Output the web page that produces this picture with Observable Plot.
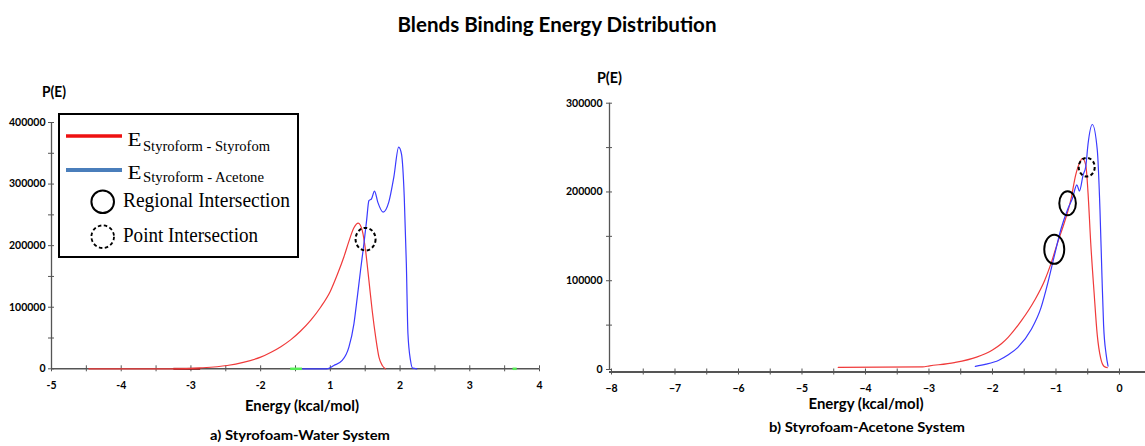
<!DOCTYPE html>
<html><head><meta charset="utf-8">
<script src="https://cdn.jsdelivr.net/npm/d3@7"></script>
<script src="https://cdn.jsdelivr.net/npm/@observablehq/plot@0.6"></script>
<style>
body{margin:0;background:#fff}
#wrap{position:relative;width:1145px;height:446px;overflow:hidden}
.plot{position:absolute;top:60px}
#overlay{position:absolute;left:0;top:0;pointer-events:none}
</style></head>
<body><div id="wrap"></div>
<script>
// ---------- data ----------
// left panel: x = position along the printed axis (0..7 -> labels below)
const leftXLabels = ["-5","-4","-3","-2","1","2","3","4"];
const leftYTicks = [0,100000,200000,300000,400000];
const leftRed = [[0.536,0],[1.755,0],[2.14,1500],[2.52,5400],[2.75,10500],[3.0,19000],[3.15,27000],[3.29,36000],[3.43,47000],[3.57,61000],[3.72,79000],[3.86,100000],[4.0,126000],[4.1,153000],[4.195,182000],[4.266,207000],[4.338,229000],[4.40,236600],[4.457,224700],[4.505,192200],[4.553,143500],[4.6,94700],[4.65,51400],[4.697,19000],[4.745,5400],[4.79,0]];
const leftBlue = [[3.6,0],[3.95,0],[4.05,5400],[4.17,13500],[4.266,35200],[4.338,73000],[4.386,116000],[4.433,160000],[4.481,203000],[4.52,241000],[4.553,273000],[4.59,276000],[4.634,288600],[4.68,270700],[4.757,254500],[4.838,270700],[4.91,311000],[4.98,360000],[5.02,349000],[5.06,279000],[5.09,170500],[5.113,56800],[5.15,13500],[5.18,1000],[5.24,0]];
const leftGreenSegs = [[3.43,3.6],[6.62,6.68]];
const leftDarkSegs = [[1.755,2.14]];
const leftMarkers = [{x:4.505, y:210500, rx:10, ry:11.3, dashed:true}];

// right panel: x = energy (kcal/mol)
const rightXTicks = [-8,-7,-6,-5,-4,-3,-2,-1,0];
const rightYTicks = [0,100000,200000,300000];
const rightRed = [[-4.43,2500],[-3.1,3000],[-2.99,4100],[-2.6,7800],[-2.25,14000],[-2.0,22000],[-1.86,29000],[-1.75,36500],[-1.544,55000],[-1.336,78000],[-1.18,100000],[-1.08,119000],[-0.974,143000],[-0.87,165000],[-0.766,191000],[-0.69,219000],[-0.62,234000],[-0.583,238000],[-0.53,230000],[-0.495,199000],[-0.453,143000],[-0.4,87000],[-0.35,39000],[-0.297,13000],[-0.245,3700],[-0.19,2000]];
const rightBlue = [[-2.27,3500],[-2.1,6000],[-1.9,10500],[-1.75,16500],[-1.6,25000],[-1.39,45000],[-1.234,70000],[-1.13,97000],[-1.026,128000],[-0.922,158000],[-0.818,180000],[-0.74,193000],[-0.671,208000],[-0.63,201000],[-0.573,219000],[-0.53,229000],[-0.495,254000],[-0.427,276000],[-0.349,247000],[-0.307,180000],[-0.276,106000],[-0.25,50000],[-0.21,17000],[-0.18,3700]];
const rightMarkers = [
  {x:-1.027, y:135400, rx:10, ry:14.5, dashed:false},
  {x:-0.817, y:187300, rx:8.3, ry:12, dashed:false},
  {x:-0.516, y:227900, rx:8, ry:9.3, dashed:true}
];

// ---------- helpers ----------
function ellipseSymbol(rx, ry){
  const k = 0.5523;
  return {draw(ctx){
    ctx.moveTo(rx,0);
    ctx.bezierCurveTo(rx,k*ry,k*rx,ry,0,ry);
    ctx.bezierCurveTo(-k*rx,ry,-rx,k*ry,-rx,0);
    ctx.bezierCurveTo(-rx,-k*ry,-k*rx,-ry,0,-ry);
    ctx.bezierCurveTo(k*rx,-ry,rx,-k*ry,rx,0);
    ctx.closePath();
  }};
}
const fmt = d3.format("d");
const axisColor = "#555";
const style = {fontFamily:"Lato, 'Open Sans', sans-serif", fontWeight:"bold", fontSize:"10.5px", color:"#000", background:"transparent", overflow:"visible"};
const redC = "#f03a3a", blueC = "#3a3aff";

function markerMarks(list){
  return list.map(m => Plot.dot([m], {x:"x", y:"y", symbol: ellipseSymbol(m.rx, m.ry), r:5, fill:"none", stroke:"#000", strokeWidth:2, strokeDasharray: m.dashed ? "3.5,2.5" : null}));
}

// ---------- left plot ----------
const left = Plot.plot({
  width:560, height:340, marginLeft:51, marginRight:21, marginTop:62, marginBottom:31.7,
  x:{domain:[0,7]}, y:{domain:[0,400000]},
  style,
  marks:[
    Plot.ruleY([0], {stroke:axisColor, strokeWidth:1.6}),
    Plot.ruleX([0], {stroke:axisColor, strokeWidth:1.3}),
    Plot.axisX({ticks:d3.range(0,7.01,0.5), tickSize:3, tickFormat:()=>"", label:null, stroke:axisColor}),
    Plot.axisX({ticks:d3.range(0,7.01,0.5), tickSize:-3, tickFormat:()=>"", label:null, stroke:axisColor}),
    Plot.axisX({ticks:d3.range(0,8), tickSize:0, tickPadding:13, tickFormat:i=>leftXLabels[i], label:null}),
    Plot.axisY({ticks:d3.range(0,400001,50000), tickSize:3, tickFormat:()=>"", label:null, stroke:axisColor}),
    Plot.axisY({ticks:d3.range(0,400001,50000), tickSize:-3, tickFormat:()=>"", label:null, stroke:axisColor}),
    Plot.axisY({ticks:leftYTicks, tickSize:0, tickPadding:6, tickFormat:fmt, label:null}),
    Plot.ruleY(leftDarkSegs, {y:0, x1:d=>d[0], x2:d=>d[1], stroke:"#8b1a1a", strokeWidth:2}),
    Plot.ruleY(leftGreenSegs, {y:0, x1:d=>d[0], x2:d=>d[1], stroke:"#55ee55", strokeWidth:2.5}),
    Plot.line(leftRed, {x:d=>d[0], y:d=>d[1], stroke:redC, strokeWidth:1.2, curve:"monotone-x"}),
    Plot.line(leftBlue, {x:d=>d[0], y:d=>d[1], stroke:blueC, strokeWidth:1.2, curve:"monotone-x"}),
    ...markerMarks(leftMarkers)
  ]
});
left.classList.add("plot"); left.style.left = "0px";

// ---------- right plot ----------
const right = Plot.plot({
  width:585, height:340, marginLeft:49, marginRight:0, marginTop:42.7, marginBottom:31,
  x:{domain:[-8.0315,0.41]}, y:{domain:[0,300000]},
  style,
  marks:[
    Plot.ruleY([0], {stroke:axisColor, strokeWidth:1.8, dy:2.5}),
    Plot.ruleX([-8.0315], {stroke:axisColor, strokeWidth:1.3}),
    Plot.axisX({ticks:d3.range(-8,0.01,0.5), tickSize:3, dy:2.5, tickFormat:()=>"", label:null, stroke:axisColor}),
    Plot.axisX({ticks:d3.range(-8,0.01,0.5), tickSize:-3, dy:2.5, tickFormat:()=>"", label:null, stroke:axisColor}),
    Plot.axisX({ticks:rightXTicks, tickSize:0, tickPadding:15, tickFormat:fmt, label:null}),
    Plot.axisY({ticks:d3.range(0,300001,50000), tickSize:3, tickFormat:()=>"", label:null, stroke:axisColor}),
    Plot.axisY({ticks:d3.range(0,300001,50000), tickSize:-3, tickFormat:()=>"", label:null, stroke:axisColor}),
    Plot.axisY({ticks:rightYTicks, tickSize:0, tickPadding:7, tickFormat:fmt, label:null}),
    Plot.line(rightRed, {x:d=>d[0], y:d=>d[1], stroke:redC, strokeWidth:1.2, curve:"monotone-x"}),
    Plot.line(rightBlue, {x:d=>d[0], y:d=>d[1], stroke:blueC, strokeWidth:1.2, curve:"monotone-x"}),
    ...markerMarks(rightMarkers)
  ]
});
right.classList.add("plot"); right.style.left = "560px";

const wrap = document.getElementById("wrap");
wrap.appendChild(left);
wrap.appendChild(right);

// ---------- overlay: titles, axis labels, legend ----------
const svg = d3.select(wrap).append("svg").attr("id","overlay").attr("width",1145).attr("height",446);
const sans = "Lato, 'Open Sans', sans-serif";
const serif = "'Liberation Serif', 'DejaVu Serif', serif";
function txt(s, x, y, size, len, opts={}){
  const t = svg.append("text").attr("x",x).attr("y",y).attr("font-family",opts.family||sans)
    .attr("font-weight",opts.weight||"bold").attr("font-size",size).attr("fill","#000")
    .attr("text-anchor",opts.anchor||"start").text(s);
  if (len) t.attr("textLength",len).attr("lengthAdjust","spacingAndGlyphs");
  return t;
}
txt("Blends Binding Energy Distribution", 557, 32, 20, 319, {anchor:"middle"});
txt("P(E)", 42, 97, 15, 24);
txt("P(E)", 597, 83, 15, 25);
txt("Energy (kcal/mol)", 302, 411, 14.5, 114, {anchor:"middle"});
txt("Energy (kcal/mol)", 866, 409, 14.5, 115, {anchor:"middle"});
txt("a) Styrofoam-Water System", 300, 440, 14, 180, {anchor:"middle"});
txt("b) Styrofoam-Acetone System", 867, 432, 14, 196, {anchor:"middle"});

// legend box
svg.append("rect").attr("x",59).attr("y",114).attr("width",239).attr("height",143)
  .attr("fill","#fff").attr("stroke","#000").attr("stroke-width",2);
svg.append("line").attr("x1",66).attr("x2",122).attr("y1",136).attr("y2",136).attr("stroke","#ee1111").attr("stroke-width",3.5);
svg.append("line").attr("x1",66).attr("x2",122).attr("y1",170).attr("y2",170).attr("stroke","#4a7ebb").attr("stroke-width",4);
txt("E", 127.5, 145.5, 19, 14, {family:serif, weight:"normal"});
txt("Styroform - Styrofom", 143, 151, 14, 127, {family:serif, weight:"normal"});
txt("E", 127.5, 178.5, 19, 14, {family:serif, weight:"normal"});
txt("Styroform - Acetone", 143, 182, 14, 121, {family:serif, weight:"normal"});
svg.append("circle").attr("cx",102.7).attr("cy",201.7).attr("r",11.3).attr("fill","none").attr("stroke","#000").attr("stroke-width",2);
txt("Regional Intersection", 123, 207, 21, 167, {family:serif, weight:"normal"});
svg.append("circle").attr("cx",102.7).attr("cy",236.7).attr("r",11.3).attr("fill","none").attr("stroke","#000").attr("stroke-width",1.8).attr("stroke-dasharray","3.5,2.5");
txt("Point Intersection", 123, 242, 21, 135, {family:serif, weight:"normal"});
</script>
</body></html>
